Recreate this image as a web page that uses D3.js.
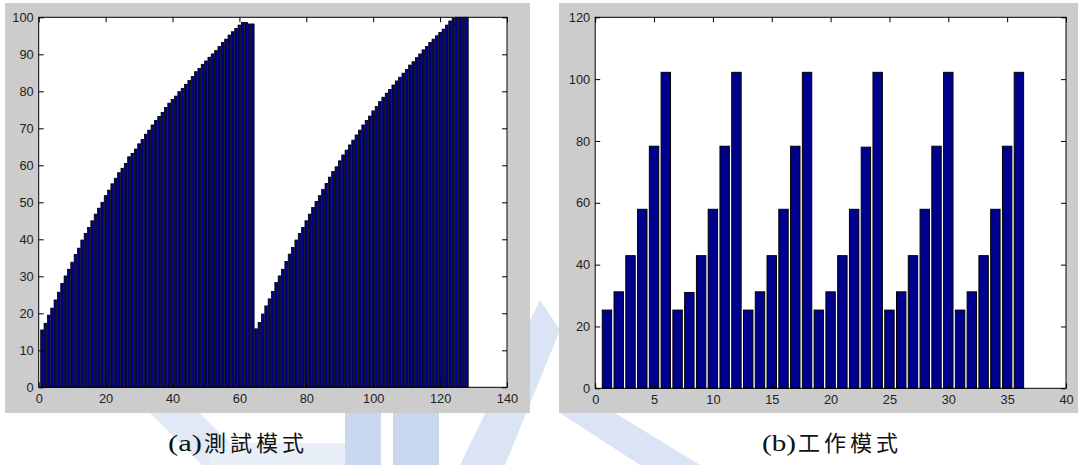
<!DOCTYPE html>
<meta charset="utf-8">
<script src="https://d3js.org/d3.v7.min.js"></script>
<style>
  body { margin: 0; background: #fff; }
  .tick text { font-family: "Liberation Sans", Arial, sans-serif; font-size: 12.8px; fill: #222; }
</style>
<div id="my_dataviz"></div>
<script>

// (a) test mode: 128 bars, two sweeps of 64
var testValues = [
  15.5, 17.3, 19.5, 21.4, 23.6, 25.7, 28.1, 30.1, 31.9, 33.8, 35.9, 37.6, 39.8, 41.6, 43.2, 45.0,
  46.8, 48.4, 50.0, 51.8, 53.3, 55.0, 56.5, 58.0, 59.2, 60.5, 62.3, 63.2, 64.4, 65.8, 67.0, 68.4,
  69.5, 70.9, 72.1, 73.2, 74.3, 75.6, 76.8, 77.8, 78.7, 79.9, 80.8, 81.9, 82.9, 84.0, 85.3, 86.2,
  87.3, 88.2, 89.2, 90.1, 91.0, 92.1, 93.2, 94.1, 95.2, 96.1, 97.0, 97.9, 98.6, 98.6, 98.2, 98.2,
  15.8, 17.5, 19.8, 22.0, 23.9, 25.9, 28.3, 30.1, 31.9, 34.0, 36.0, 37.8, 39.8, 41.6, 43.2, 45.0,
  46.8, 48.6, 50.2, 51.8, 53.5, 55.1, 56.8, 58.3, 59.6, 61.2, 62.8, 64.1, 65.5, 66.8, 68.2, 69.5,
  70.9, 72.1, 73.3, 74.7, 75.9, 77.2, 78.4, 79.5, 80.5, 81.7, 82.8, 83.8, 84.9, 85.9, 87.1, 88.0,
  89.1, 90.1, 91.2, 92.1, 93.2, 94.1, 95.0, 95.9, 96.8, 97.9, 99.0, 99.7, 100, 100, 100, 100
];

// (b) work mode: 36 bars, six repeats
var workValues = [
  25.3, 31.2, 42.9, 57.9, 78.3, 102.2,
  25.3, 31.0, 42.9, 57.9, 78.3, 102.2,
  25.3, 31.2, 42.9, 57.9, 78.3, 102.2,
  25.3, 31.2, 42.9, 57.9, 78.0, 102.2,
  25.3, 31.2, 42.9, 57.9, 78.3, 102.2,
  25.3, 31.2, 42.9, 57.9, 78.3, 102.2
];

var testXTicks = [0, 20, 40, 60, 80, 100, 120, 140];
var testYTicks = [0, 10, 20, 30, 40, 50, 60, 70, 80, 90, 100];
var workXTicks = [0, 5, 10, 15, 20, 25, 30, 35, 40];
var workYTicks = [0, 20, 40, 60, 80, 100, 120];

var captionTags = ["(a)", "(b)"];
var captionNames = ["測試模式", "工作模式"];

var svg = d3.select("#my_dataviz")
  .append("svg")
    .attr("width", 1081)
    .attr("height", 465);

svg.append("rect").attr("width", 1081).attr("height", 465).attr("fill", "#fff");

// faint watermark in the background
var wm = svg.append("g").attr("opacity", 0.55);
wm.append("polygon").attr("points", "150,413 200,413 252,465 202,465").attr("fill", "#c9d8f0");
wm.append("rect").attr("x", 210).attr("y", 443).attr("width", 135).attr("height", 22).attr("fill", "#d7e2f4");
wm.append("rect").attr("x", 345).attr("y", 413).attr("width", 36).attr("height", 52).attr("fill", "#9fb9e3");
wm.append("rect").attr("x", 393).attr("y", 413).attr("width", 46).attr("height", 52).attr("fill", "#9fb9e3");
wm.append("polygon").attr("points", "460,465 505,465 560,330 540,300").attr("fill", "#bccfee");
wm.append("polygon").attr("points", "560,413 615,413 700,465 640,465").attr("fill", "#bccfee");

function drawPanel(opt) {
  var g = svg.append("g");

  g.append("rect")
    .attr("x", opt.bg[0]).attr("y", opt.bg[1])
    .attr("width", opt.bg[2]).attr("height", opt.bg[3])
    .attr("fill", "#cccccc");

  var x = d3.scaleLinear().domain(opt.xDomain).range([opt.left, opt.right]);
  var y = d3.scaleLinear().domain(opt.yDomain).range([opt.bottom, opt.top]);

  g.append("rect")
    .attr("x", opt.left).attr("y", opt.top)
    .attr("width", opt.right - opt.left).attr("height", opt.bottom - opt.top)
    .attr("fill", "#fff");

  g.selectAll("rect.bar")
    .data(opt.values)
    .enter()
    .append("rect")
    .attr("class", "bar")
    .attr("x", function(d, i) { return x(i + 1 - 0.4); })
    .attr("width", function(d, i) { return x(i + 1 + 0.4) - x(i + 1 - 0.4); })
    .attr("y", function(d) { return y(d); })
    .attr("height", function(d) { return y(0) - y(d); })
    .attr("fill", "#00008f")
    .attr("stroke", "#000")
    .attr("stroke-width", opt.strokeW);

  // ticks inside the box, labels only bottom/left
  g.append("g")
    .attr("transform", "translate(0," + opt.bottom + ")")
    .call(d3.axisBottom(x).tickValues(opt.xTicks).tickSize(-5).tickPadding(6.5).tickFormat(d3.format("d")))
    .call(function(a) { a.select(".domain").remove(); });
  g.append("g")
    .attr("transform", "translate(0," + opt.top + ")")
    .call(d3.axisTop(x).tickValues(opt.xTicks).tickSize(-5).tickFormat(""))
    .call(function(a) { a.select(".domain").remove(); });
  g.append("g")
    .attr("transform", "translate(" + opt.left + ",0)")
    .call(d3.axisLeft(y).tickValues(opt.yTicks).tickSize(-5).tickPadding(5).tickFormat(d3.format("d")))
    .call(function(a) { a.select(".domain").remove(); });
  g.append("g")
    .attr("transform", "translate(" + opt.right + ",0)")
    .call(d3.axisRight(y).tickValues(opt.yTicks).tickSize(-5).tickFormat(""))
    .call(function(a) { a.select(".domain").remove(); });

  g.append("rect")
    .attr("x", opt.left).attr("y", opt.top)
    .attr("width", opt.right - opt.left).attr("height", opt.bottom - opt.top)
    .attr("fill", "none")
    .attr("stroke", "#000");

  var cap = svg.append("text")
    .attr("y", 451)
    .style("font-size", "22px")
    .style("fill", "#111");
  cap.append("tspan")
    .attr("x", opt.capX)
    .attr("textLength", 34)
    .attr("lengthAdjust", "spacingAndGlyphs")
    .style("font-family", "'Liberation Serif', serif")
    .style("font-size", "23px")
    .text(opt.tag);
  cap.append("tspan")
    .attr("x", opt.capX + 36)
    .attr("textLength", 100)
    .attr("lengthAdjust", "spacing")
    .style("font-family", "'Noto Sans CJK TC', sans-serif")
    .text(opt.name);
}

drawPanel({
  bg: [5, 3, 525, 410],
  left: 38.7, right: 507, top: 17.3, bottom: 387.3,
  xDomain: [0, 140], yDomain: [0, 100],
  xTicks: testXTicks, yTicks: testYTicks,
  values: testValues, strokeW: 0.8,
  tag: captionTags[0], name: captionNames[0], capX: 168
});

drawPanel({
  bg: [559, 3, 519, 410],
  left: 595.2, right: 1066, top: 17.3, bottom: 388.3,
  xDomain: [0, 40], yDomain: [0, 120],
  xTicks: workXTicks, yTicks: workYTicks,
  values: workValues, strokeW: 1,
  tag: captionTags[1], name: captionNames[1], capX: 762
});

</script>
